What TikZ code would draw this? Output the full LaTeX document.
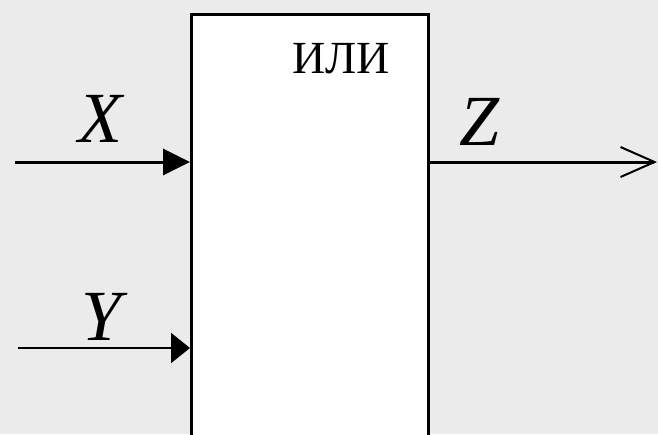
\documentclass[tikz,border=0pt]{standalone}
\usepackage{fontspec}
\setmainfont{Liberation Serif}
\usetikzlibrary{arrows.meta}
\definecolor{bgcol}{RGB}{235,235,235}
\begin{document}
\begin{tikzpicture}[x=1pt,y=-1pt,
  lbl/.style={font=\fontsize{72}{72}\selectfont\itshape, anchor=base, inner sep=0pt},
  title/.style={font=\fontsize{46}{46}\selectfont, anchor=base, inner sep=0pt},
  gatebox/.style={draw=black, fill=white, line width=3pt, inner sep=0pt,
                  minimum width=237pt, minimum height=440pt, anchor=north west},
  wire/.style={draw=black, line width=3pt},
  thinwire/.style={draw=black, line width=2pt}]
\useasboundingbox (0,0) rectangle (658,434);
\fill[bgcol] (0,0) rectangle (658,434);
\clip (0,0) rectangle (658,434);
\node[gatebox] (gate) at (190,13) {};
\node[title] (or) at (341,73) {ИЛИ};
\node[lbl] (xl) at (100,142) {X};
\node[lbl] (yl) at (102,340) {Y};
\node[lbl] (zl) at (480,145) {Z};
\coordinate (xs) at (15,162);
\coordinate (ys) at (18,348);
\coordinate (zend) at (657,162);
\draw[wire, -{Triangle[length=27pt,width=26pt]}] (xs) -- (xs -| gate.west);
\draw[thinwire, -{Triangle[length=19pt,width=30pt]}] (ys) -- (ys -| gate.west);
\draw[wire, -{Straight Barb[length=34pt,width=30pt,line width=2pt]}] (zend -| gate.east) -- (zend);
\end{tikzpicture}
\end{document}
